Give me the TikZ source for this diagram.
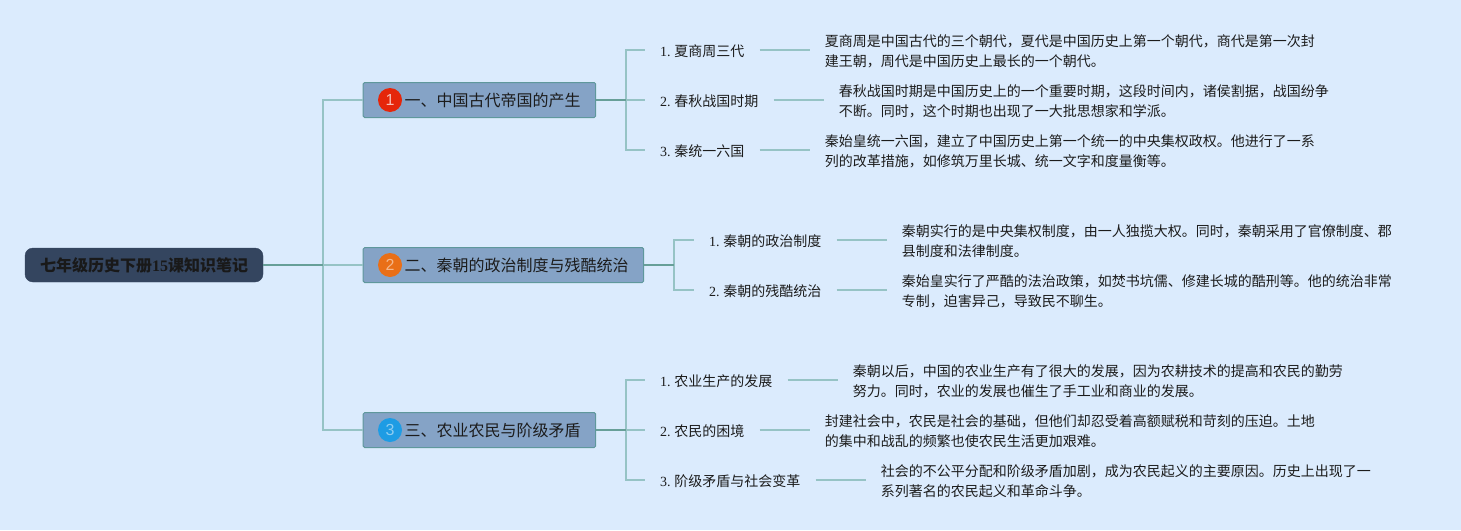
\documentclass[tikz,border=0pt]{standalone}
\usepackage{fontspec}
\setmainfont{Noto Sans CJK SC}
\newfontfamily\numfont{Liberation Serif}
\newfontfamily\badgefont{Liberation Sans}
\usetikzlibrary{calc,positioning}
\definecolor{paper}{HTML}{DBEBFD}
\definecolor{rootfill}{HTML}{34455F}
\definecolor{topicfill}{HTML}{85A3C6}
\definecolor{topicedge}{HTML}{5F989C}
\definecolor{lightline}{HTML}{96C3C5}
\definecolor{darkline}{HTML}{679F98}
\definecolor{inktext}{HTML}{1C1C1C}
\definecolor{badgered}{HTML}{E5260A}
\definecolor{badgeorange}{HTML}{E96F17}
\definecolor{badgeblue}{HTML}{1E9CE4}
\tikzset{
  mind map/.style = {
    x=1pt, y=-1pt,
    text=inktext,
    root/.style  = {draw=rootfill, fill=rootfill, rounded corners=8pt, text=black!90,
      minimum height=34pt, minimum width=238pt, inner sep=0pt,
      font=\fontsize{16}{20}\selectfont\bfseries},
    topic/.style = {draw=topicedge, fill=topicfill, line width=1pt, rounded corners=1.5pt,
      minimum height=35pt, anchor=west, inner ysep=0pt, inner xsep=15pt,
      font=\fontsize{16}{20}\selectfont},
    badge/.style = {circle, minimum size=24pt, inner sep=0pt, text=white, text opacity=0.5,
      font=\fontsize{16}{16}\badgefont},
    leaf/.style  = {anchor=west, yshift=-1pt, inner ysep=0pt, inner xsep=15pt,
      font=\fontsize{14}{20}\selectfont},
    detail/.style = {right=50pt of ##1, align=left, inner ysep=0pt, inner xsep=15pt,
      font=\fontsize{14}{20}\selectfont},
    branch/.style = {draw=lightline, line width=1.5pt},
    stem/.style   = {draw=darkline, line width=1.5pt},
  }
}
\newcommand{\numbered}[2]{{\numfont #1.}\kern-0.5pt{} #2}
\begin{document}
\begin{tikzpicture}[mind map]
\fill[paper] (0,0) rectangle (1461,530);
\useasboundingbox (0,0) rectangle (1461,530);

\node[root] (root) at (144,265) {七年级历史下册{\numfont 15}课知识笔记};

% topics
\node[topic] (topic1) at (362.7,100) {\hspace*{26.5pt}一、中国古代帝国的产生};
\node[topic] (topic2) at (362.7,265) {\hspace*{26.5pt}二、秦朝的政治制度与残酷统治};
\node[topic] (topic3) at (362.7,430) {\hspace*{26.5pt}三、农业农民与阶级矛盾};

\node[badge, fill=badgered, text opacity=0.7] at ([xshift=27.3pt]topic1.west) {1};
\node[badge, fill=badgeorange] at ([xshift=27.3pt]topic2.west) {2};
\node[badge, fill=badgeblue] at ([xshift=27.3pt]topic3.west) {3};

% first topic
\node[leaf] (leaf11) at (645,50)  {\numbered{1}{夏商周三代}};
\node[leaf] (leaf12) at (645,100) {\numbered{2}{春秋战国时期}};
\node[leaf] (leaf13) at (645,150) {\numbered{3}{秦统一六国}};
\node[detail=leaf11] (note11) {夏商周是中国古代的三个朝代，夏代是中国历史上第一个朝代，商代是第一次封\\建王朝，周代是中国历史上最长的一个朝代。};
\node[detail=leaf12] (note12) {春秋战国时期是中国历史上的一个重要时期，这段时间内，诸侯割据，战国纷争\\不断。同时，这个时期也出现了一大批思想家和学派。};
\node[detail=leaf13] (note13) {秦始皇统一六国，建立了中国历史上第一个统一的中央集权政权。他进行了一系\\列的改革措施，如修筑万里长城、统一文字和度量衡等。};

% second topic
\node[leaf] (leaf21) at (694,240) {\numbered{1}{秦朝的政治制度}};
\node[leaf] (leaf22) at (694,290) {\numbered{2}{秦朝的残酷统治}};
\node[detail=leaf21] (note21) {秦朝实行的是中央集权制度，由一人独揽大权。同时，秦朝采用了官僚制度、郡\\县制度和法律制度。};
\node[detail=leaf22] (note22) {秦始皇实行了严酷的法治政策，如焚书坑儒、修建长城的酷刑等。他的统治非常\\专制，迫害异己，导致民不聊生。};

% third topic
\node[leaf] (leaf31) at (645,380) {\numbered{1}{农业生产的发展}};
\node[leaf] (leaf32) at (645,430) {\numbered{2}{农民的困境}};
\node[leaf] (leaf33) at (645,480) {\numbered{3}{阶级矛盾与社会变革}};
\node[detail=leaf31] (note31) {秦朝以后，中国的农业生产有了很大的发展，因为农耕技术的提高和农民的勤劳\\努力。同时，农业的发展也催生了手工业和商业的发展。};
\node[detail=leaf32] (note32) {封建社会中，农民是社会的基础，但他们却忍受着高额赋税和苛刻的压迫。土地\\的集中和战乱的频繁也使农民生活更加艰难。};
\node[detail=leaf33] (note33) {社会的不公平分配和阶级矛盾加剧，成为农民起义的主要原因。历史上出现了一\\系列著名的农民起义和革命斗争。};

\coordinate (rootfork) at (323,265);
\coordinate (fork1) at (626,100);
\coordinate (fork2) at (674,265);
\coordinate (fork3) at (626,430);

\foreach \n in {1,2,3}
  \draw[branch] (rootfork) |- (topic\n.west);
\foreach \t/\n in {1/1,1/2,1/3,2/1,2/2,3/1,3/2,3/3}
{
  \draw[branch] (fork\t) |- ([yshift=1pt]leaf\t\n.west);
  \draw[branch] ([yshift=1pt]leaf\t\n.east) -- ([yshift=1pt]note\t\n.west);
}
\draw[stem] (root.east) -- (rootfork);
\foreach \n in {1,2,3}
  \draw[stem] (topic\n.east) -- (fork\n);

\end{tikzpicture}
\end{document}
